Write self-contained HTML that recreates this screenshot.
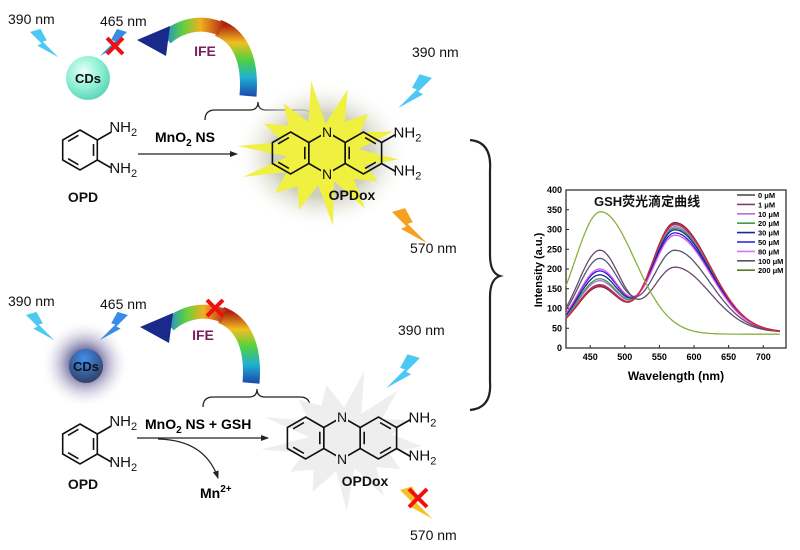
<!DOCTYPE html>
<html><head><meta charset="utf-8"><style>
body{margin:0;background:#fff}
svg{display:block}
text{font-family:"Liberation Sans","Noto Sans CJK SC",sans-serif}
</style></head><body>
<svg id="s" width="800" height="550" viewBox="0 0 800 550" xmlns="http://www.w3.org/2000/svg">
<defs>
<radialGradient id="mint" cx="40%" cy="35%" r="65%"><stop offset="0" stop-color="#e6fff7"/><stop offset="0.6" stop-color="#8ff0d4"/><stop offset="1" stop-color="#5fd6b8"/></radialGradient>
<radialGradient id="glow" r="50%"><stop offset="0.35" stop-color="#7d78a8"/><stop offset="1" stop-color="#ffffff" stop-opacity="0"/></radialGradient>
<radialGradient id="core" cx="45%" cy="30%" r="65%"><stop offset="0" stop-color="#3f8ff0"/><stop offset="1" stop-color="#34456e"/></radialGradient>
<radialGradient id="yglow" r="50%"><stop offset="0.55" stop-color="#cfcfbd"/><stop offset="1" stop-color="#fff" stop-opacity="0"/></radialGradient>
<linearGradient id="rbv" gradientUnits="userSpaceOnUse" x1="0" y1="95" x2="0" y2="25"><stop offset="0" stop-color="#1a50b0"/><stop offset="0.25" stop-color="#20b0d0"/><stop offset="0.5" stop-color="#50d040"/><stop offset="0.75" stop-color="#f0c020"/><stop offset="1" stop-color="#b02010"/></linearGradient>
<linearGradient id="rbh" gradientUnits="userSpaceOnUse" x1="225" y1="0" x2="155" y2="0"><stop offset="0" stop-color="#b02010"/><stop offset="0.35" stop-color="#f0b020"/><stop offset="0.6" stop-color="#60d040"/><stop offset="0.85" stop-color="#2090d0"/><stop offset="1" stop-color="#1a2a90"/></linearGradient>
<marker id="ah" markerWidth="8" markerHeight="8" refX="7" refY="4" orient="auto" markerUnits="userSpaceOnUse"><path d="M0,1 L8,4 L0,7 z" fill="#222"/></marker>
</defs>
<g id="g"></g>
</svg>
<script>
const g=document.getElementById('g');let H='';
function add(s){H+=s;}
function sq(x){return x*x;}
function t(x,y,s,o){o=o||{};add('<text x="'+x+'" y="'+y+'" font-size="'+(o.fs||14)+'" font-weight="'+(o.b?'bold':'normal')+'" fill="'+(o.c||'#111')+'" text-anchor="'+(o.a||'start')+'">'+s+'</text>');}
function bolt(x,y,sc,col,sx){add('<g transform="translate('+x+','+y+') scale('+(sc*(sx||1))+','+sc+')"><path d="M0,0 L10,-3 L16,8 L12,9 L27,24 L7,13 L11,11 Z" fill="'+col+'"/></g>');}
function xmark(x,y,s){add('<path d="M'+(x-s)+','+(y-s)+'L'+(x+s)+','+(y+s)+'M'+(x+s)+','+(y-s)+'L'+(x-s)+','+(y+s)+'" stroke="#f01010" stroke-width="4"/>');}
function star(cx,cy,r1,r2,n,col,ex){let p=[];for(let i=0;i<n*2;i++){let a=Math.PI*i/n+0.1,r=i%2?r2:r1;r*=1+0.15*Math.sin(i*2.3);p.push((cx+r*ex*Math.cos(a)).toFixed(1)+','+(cy+r*Math.sin(a)).toFixed(1));}add('<polygon points="'+p.join(' ')+'" fill="'+col+'"/>');}
function hex(cx,cy,r,dbl){let pts=[];for(let i=0;i<6;i++){let a=Math.PI/3*i-Math.PI/2;pts.push([cx+r*Math.cos(a),cy+r*Math.sin(a)]);}
 let d='M'+pts.map(p=>p[0].toFixed(1)+','+p[1].toFixed(1)).join('L')+'Z';add('<path d="'+d+'" fill="none" stroke="#111" stroke-width="1.6"/>');
 dbl.forEach(i=>{let a=pts[i],b=pts[(i+1)%6];let k=0.78;let ax=cx+(a[0]-cx)*k,ay=cy+(a[1]-cy)*k,bx=cx+(b[0]-cx)*k,by=cy+(b[1]-cy)*k;let sx=(bx-ax)*0.12,sy=(by-ay)*0.12;add('<line x1="'+(ax+sx)+'" y1="'+(ay+sy)+'" x2="'+(bx-sx)+'" y2="'+(by-sy)+'" stroke="#111" stroke-width="1.6"/>');});return pts;}
function nh2(x,y){add('<text x="'+x+'" y="'+y+'" font-size="15" fill="#111">NH<tspan font-size="11" dy="4">2</tspan></text>');}
function subs(p){add('<line x1="'+p[1][0]+'" y1="'+p[1][1]+'" x2="'+(p[1][0]+14)+'" y2="'+(p[1][1]-8)+'" stroke="#111" stroke-width="1.6"/><line x1="'+p[2][0]+'" y1="'+p[2][1]+'" x2="'+(p[2][0]+14)+'" y2="'+(p[2][1]+8)+'" stroke="#111" stroke-width="1.6"/>');}
function opd(cx,cy,dy){let p=hex(cx,cy,20,[1,3,5]);subs(p);nh2(p[1][0]+12,p[1][1]-8);nh2(p[2][0]+12,p[2][1]+13);t(cx+3,cy+dy,'OPD',{b:1,fs:14,a:'middle'});}
function phen(mx,cy,bg){const r=21,w=r*Math.cos(Math.PI/6)*2;hex(mx-w,cy,r,[1,3,5]);hex(mx,cy,r,[]);let c=hex(mx+w,cy,r,[0,2,4]);
 add('<rect x="'+(mx-6)+'" y="'+(cy-r-8)+'" width="12" height="15" fill="'+bg+'"/><rect x="'+(mx-6)+'" y="'+(cy+r-7)+'" width="12" height="15" fill="'+bg+'"/>');
 t(mx,cy-r+5,'N',{fs:14,a:'middle'});t(mx,cy+r+5,'N',{fs:14,a:'middle'});
 subs(c);nh2(c[1][0]+12,c[1][1]-5);nh2(c[2][0]+12,c[2][1]+12);}
function brace(x1,x2,y,pk){add('<path d="M'+x1+','+(y+10)+' Q'+x1+','+y+' '+(x1+10)+','+y+' L'+(pk-8)+','+y+' Q'+pk+','+y+' '+pk+','+(y-8)+' Q'+pk+','+y+' '+(pk+8)+','+y+' L'+(x2-10)+','+y+' Q'+x2+','+y+' '+x2+','+(y+10)+'" fill="none" stroke="#222" stroke-width="1.3"/>');}
function rainbow(dx,dy){add('<g transform="translate('+dx+','+dy+')">'+
 '<path d="M248,96 C251,60 240,36 218,28" fill="none" stroke="url(#rbv)" stroke-width="17"/>'+
 '<path d="M221,29 C200,20 180,26 166,38" fill="none" stroke="url(#rbh)" stroke-width="14"/>'+
 '<path d="M170,26 L166,56 L137,40 Z" fill="#1a2a8a"/></g>');}
// TOP
t(8,24,'390 nm');t(100,26,'465 nm');
bolt(30,32,1.05,'#4cc8f4');
add('<circle cx="88" cy="78" r="22" fill="url(#mint)"/>');t(88,83,'CDs',{b:1,a:'middle',fs:13});
bolt(127,32,1.0,'#3a8ae8',-1);xmark(115,46,8);
rainbow(0,0);t(205,56,'IFE',{b:1,c:'#7a1f5c',fs:14,a:'middle'});
brace(205,312,110,258);
opd(80,150,52);
add('<text x="155" y="142" font-size="14" font-weight="bold">MnO<tspan font-size="10" dy="4">2</tspan><tspan dy="-4"> NS</tspan></text>');
add('<line x1="138" y1="154" x2="237" y2="154" stroke="#222" stroke-width="1.2" marker-end="url(#ah)"/>');
add('<ellipse cx="322" cy="155" rx="88" ry="75" fill="url(#yglow)"/>');
star(322,153,64,34,14,'#f0f040',1.2);
phen(327,153,'#f0f040');
t(352,200,'OPDox',{b:1,a:'middle',fs:14});
t(412,57,'390 nm');bolt(432,78,1.25,'#4cc8f4',-1);
bolt(392,212,1.3,'#f5a020');t(410,253,'570 nm');
add('<path d="M470,140 Q492,142 490,170 L490,255 Q490,273 500,276 Q490,279 490,297 L490,382 Q492,408 470,410" fill="none" stroke="#222" stroke-width="2.2"/>');
// BOTTOM
t(8,306,'390 nm');t(100,309,'465 nm');
bolt(26,315,1.05,'#4cc8f4');
add('<circle cx="85" cy="364" r="44" fill="url(#glow)"/><circle cx="86" cy="366" r="17" fill="url(#core)"/>');t(86,371,'CDs',{b:1,a:'middle',fs:13});
bolt(128,315,1.05,'#3a8ae8',-1);
rainbow(3,287);xmark(215,308,8);t(203,340,'IFE',{b:1,c:'#7a1f5c',fs:14,a:'middle'});
brace(203,310,397,257);
opd(80,444,45);
add('<text x="145" y="429" font-size="14" font-weight="bold">MnO<tspan font-size="10" dy="4">2</tspan><tspan dy="-4"> NS + GSH</tspan></text>');
add('<line x1="137" y1="438" x2="268" y2="438" stroke="#222" stroke-width="1.2" marker-end="url(#ah)"/>');
add('<path d="M158,439 Q205,440 218,478" fill="none" stroke="#222" stroke-width="1.2" marker-end="url(#ah)"/>');
add('<text x="200" y="498" font-size="14" font-weight="bold">Mn<tspan font-size="10" dy="-6">2+</tspan></text>');
star(345,440,62,34,13,'#eeeeee',1.25);
phen(342,438,'#eeeeee');
t(365,486,'OPDox',{b:1,a:'middle',fs:14});
t(398,335,'390 nm');bolt(420,358,1.25,'#4cc8f4',-1);
bolt(400,490,1.2,'#f5c020');xmark(418,498,9);t(410,540,'570 nm');
// CHART
const X0=566,X1=786,Y0=348,Y1=190;const xs=v=>566+(v-415)*(772-599)/250;const ys=v=>348-v*0.395;
add('<rect x="'+X0+'" y="'+Y1+'" width="'+(X1-X0)+'" height="'+(Y0-Y1)+'" fill="#fff" stroke="#222" stroke-width="1.2"/>');
for(let v=0;v<=400;v+=50){add('<line x1="'+X0+'" y1="'+ys(v)+'" x2="'+(X0+3)+'" y2="'+ys(v)+'" stroke="#222"/>');add('<text x="'+(X0-4)+'" y="'+(ys(v)+3)+'" font-size="9" font-weight="bold" text-anchor="end" font-family="Liberation Serif">'+v+'</text>');}
for(let v=450;v<=700;v+=50){add('<line x1="'+xs(v)+'" y1="'+Y0+'" x2="'+xs(v)+'" y2="'+(Y0-3)+'" stroke="#222"/>');add('<text x="'+xs(v)+'" y="'+(Y0+12)+'" font-size="9" font-weight="bold" text-anchor="middle" font-family="Liberation Serif">'+v+'</text>');}
add('<text x="'+((X0+X1)/2)+'" y="380" font-size="12" font-weight="bold" text-anchor="middle" font-family="Liberation Serif">Wavelength (nm)</text>');
add('<text transform="translate(542,270) rotate(-90)" font-size="11" font-weight="bold" text-anchor="middle" font-family="Liberation Serif">Intensity (a.u.)</text>');
const cols=['#333333','#8a3a6a','#b070e0','#40a040','#1a2a90','#2020e0','#e050e0','#555577','#6a4a6a'];
const pk=[[160,318],[165,313],[175,308],[180,304],[190,300],[200,292],[205,286],[232,248],[253,205]];
function curve(a1,a2,c){let d='';for(let v=415;v<=725;v+=3){let w2=v>572?72:48;let y=a1*Math.exp(-sq((v-465)/45))+a2*Math.exp(-sq((v-572)/w2))+40-18*Math.exp(-sq((v-505)/40));d+=(v==415?'M':'L')+xs(v).toFixed(1)+','+ys(y).toFixed(1);}add('<path d="'+d+'" fill="none" stroke="'+c+'" stroke-width="1.3"/>');}
pk.forEach((p,i)=>curve(p[0]-40,p[1]-40,cols[i]));
curve(162-40,316-40,'#e02040');
{let d='';for(let v=415;v<=725;v+=3){let w=v>465?70:52;let y=310*Math.exp(-sq((v-465)/w))+35;d+=(v==415?'M':'L')+xs(v).toFixed(1)+','+ys(y).toFixed(1);}add('<path d="'+d+'" fill="none" stroke="#8ab040" stroke-width="1.3"/>');}
t(594,206,'GSH荧光滴定曲线',{b:1,fs:13});
const lab=['0 μM','1 μM','10 μM','20 μM','30 μM','50 μM','80 μM','100 μM','200 μM'];
const lc=['#444','#8a3a6a','#b070e0','#40a040','#1a2a90','#2020e0','#e070f0','#556','#5a7a20'];
lab.forEach((s,i)=>{let y=195+i*9.4;add('<line x1="737" y1="'+y+'" x2="755" y2="'+y+'" stroke="'+lc[i]+'" stroke-width="1.6"/>');add('<text x="758" y="'+(y+3)+'" font-size="7.5" font-weight="bold" font-family="Liberation Serif">'+s+'</text>');});
g.innerHTML=H;
</script>
</body></html>
